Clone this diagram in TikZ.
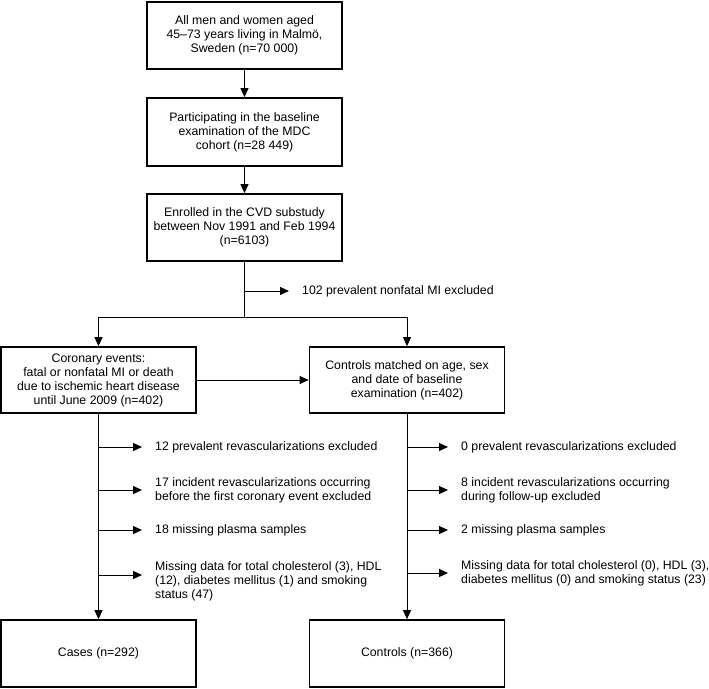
\documentclass[tikz,border=0pt]{standalone}
\usepackage{fontspec}
\setmainfont{Liberation Sans}
\usetikzlibrary{arrows.meta}
\begin{document}
\begin{tikzpicture}[x=1pt,y=-1pt,
  every node/.style={font=\fontsize{12.3}{14}\selectfont},
  box/.style={draw, line width=1.7pt, align=center, inner sep=2pt},
  topbox/.style={box, minimum width=195pt, minimum height=67pt},
  subbox/.style={box, minimum width=195pt, minimum height=66pt},
  exc/.style={anchor=west, align=left, inner sep=0pt},
  conn/.style={line width=0.9pt},
  arr/.style={conn, -{Triangle[length=9pt,width=8pt]}}]
\useasboundingbox (0,0) rectangle (709,688);

\node[topbox] (all) at (244.5,35.5) {All men and women aged\\45--73 years living in Malmö,\\Sweden (n=70 000)};
\node[topbox, minimum height=68pt] (part) at (244.5,132) {Participating in the baseline\\examination of the MDC\\cohort (n=28 449)};
\node[topbox] (enr) at (244.5,227.5) {Enrolled in the CVD substudy\\between Nov 1991 and Feb 1994\\(n=6103)};

\node[subbox] (cor) at (98.5,380) {Coronary events:\\fatal or nonfatal MI or death\\due to ischemic heart disease\\until June 2009 (n=402)};
\node[subbox] (ctl) at (407,380) {Controls matched on age, sex\\and date of baseline\\examination (n=402)};

\node[topbox] (cases) at (98.5,653.5) {Cases (n=292)};
\node[topbox] (ctls) at (407,653.5) {Controls (n=366)};

\draw[arr] (all) -- (part);
\draw[arr] (part) -- (enr);

\coordinate (split) at (244.5,317);
\coordinate (c0) at (244.5,291);
\draw[conn] (enr) -- (split);
\node[exc] (t0) at (302,291) {102 prevalent nonfatal MI excluded};
\draw[arr, shorten >=13pt] (c0) -- (c0 -| t0.west);
\draw[arr] (split) -| (cor.north);
\draw[arr] (split) -| (ctl.north);
\draw[arr] (cor) -- (ctl);

\draw[arr] (cor) -- (cases);
\draw[arr] (ctl) -- (ctls);

% left exclusions
\coordinate (l1) at (98.5,447);
\coordinate (l2) at (98.5,490);
\coordinate (l3) at (98.5,530);
\coordinate (l4) at (98.5,575);
\node[exc] (lt1) at (155,447) {12 prevalent revascularizations excluded};
\node[exc] (lt2) at (155,490) {17 incident revascularizations occurring\\before the first coronary event excluded};
\node[exc] (lt3) at (155,530) {18 missing plasma samples};
\node[exc] (lt4) at (155,581) {Missing data for total cholesterol (3), HDL\\(12), diabetes mellitus (1) and smoking\\status (47)};
\draw[arr, shorten >=13pt] (l1) -- (l1 -| lt1.west);
\draw[arr, shorten >=13pt] (l2) -- (l2 -| lt2.west);
\draw[arr, shorten >=13pt] (l3) -- (l3 -| lt3.west);
\draw[arr, shorten >=13pt] (l4) -- (l4 -| lt4.west);

% right exclusions
\coordinate (r1) at (407,447);
\coordinate (r2) at (407,490);
\coordinate (r3) at (407,530);
\coordinate (r4) at (407,573);
\node[exc] (rt1) at (461,447) {0 prevalent revascularizations excluded};
\node[exc] (rt2) at (461,490) {8 incident revascularizations occurring\\during follow-up excluded};
\node[exc] (rt3) at (461,530) {2 missing plasma samples};
\node[exc] (rt4) at (461,573) {Missing data for total cholesterol (0), HDL (3),\\diabetes mellitus (0) and smoking status (23)};
\draw[arr, shorten >=13pt] (r1) -- (r1 -| rt1.west);
\draw[arr, shorten >=13pt] (r2) -- (r2 -| rt2.west);
\draw[arr, shorten >=13pt] (r3) -- (r3 -| rt3.west);
\draw[arr, shorten >=13pt] (r4) -- (r4 -| rt4.west);
\end{tikzpicture}
\end{document}
